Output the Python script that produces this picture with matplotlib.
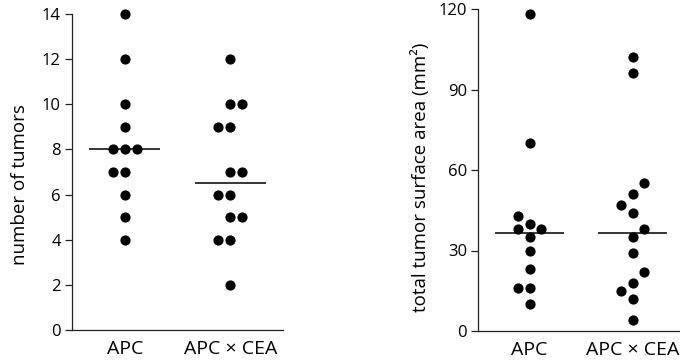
import numpy as np
import matplotlib
matplotlib.use("Agg")
import matplotlib.pyplot as plt

plt.rcParams['font.family'] = ['Open Sans', 'DejaVu Sans']

groups = ["APC", "APC × CEA"]

# number of tumors per mouse
tumors_apc = [14, 12, 10, 9, 8, 8, 8, 7, 7, 6, 5, 4]
tumors_cea = [12, 10, 10, 9, 9, 7, 7, 6, 6, 5, 5, 4, 4, 2]

# total tumor surface area (mm²) per mouse
area_apc = [118, 70, 43, 40, 38, 38, 35, 30, 23, 16, 16, 10]
area_cea = [102, 96, 55, 51, 47, 44, 38, 35, 29, 22, 18, 15, 12, 4]

# swarm column of each dot (-1 left, 0 centre, 1 right), as in the figure
slots_tumors_apc = [0, 0, 0, 0, -1, 0, 1, -1, 0, 0, 0, 0]
slots_tumors_cea = [0, 0, 1, -1, 0, 0, 1, -1, 0, 0, 1, -1, 0, 0]
slots_area_apc = [0, 0, -1, 0, -1, 1, 0, 0, 0, -1, 0, 0]
slots_area_cea = [0, 0, 1, 0, -1, 0, 1, 0, 0, 1, 0, -1, 0, 0]

DOT_STEP = 0.115
HALF_LINE = 0.335


def swarm(ax, pos, values, slots):
    x = pos + np.array(slots) * DOT_STEP
    ax.scatter(x, values, s=54, color='black', zorder=3, linewidths=0, clip_on=False)
    med = np.median(values)
    ax.plot([pos - HALF_LINE, pos + HALF_LINE], [med, med], color='black',
            lw=1.1, zorder=2, solid_capstyle='butt')


def style(ax):
    for s in ['top', 'right']:
        ax.spines[s].set_visible(False)
    for s in ['left', 'bottom']:
        ax.spines[s].set_linewidth(0.9)
        ax.spines[s].set_color('#222222')
    ax.tick_params(axis='y', length=5, width=0.9, labelsize=12, pad=3, color='#222222')
    ax.tick_params(axis='x', length=0, labelsize=14, pad=7)
    ax.set_xticks([1, 2])
    ax.set_xticklabels(groups)


fig = plt.figure(figsize=(6.8, 3.64), dpi=100)

ax1 = fig.add_axes([72 / 680, 34 / 364, 211 / 680, 316 / 364])
swarm(ax1, 1, tumors_apc, slots_tumors_apc)
swarm(ax1, 2, tumors_cea, slots_tumors_cea)
ax1.set_xlim(0.5, 2.5)
ax1.set_ylim(0, 14)
ax1.set_yticks(range(0, 15, 2))
ax1.set_ylabel("number of tumors", fontsize=13.5, labelpad=9)
ax1.yaxis.label.set_y(0.46)
style(ax1)

ax2 = fig.add_axes([478 / 680, 33 / 364, 202 / 680, 322 / 364])
swarm(ax2, 1, area_apc, slots_area_apc)
swarm(ax2, 2, area_cea, slots_area_cea)
ax2.set_xlim(0.5, 2.46)
ax2.set_ylim(0, 120)
ax2.set_yticks([0, 30, 60, 90, 120])
ax2.set_ylabel("total tumor surface area (mm²)", fontsize=13.5, labelpad=6)
ax2.yaxis.label.set_y(0.478)
style(ax2)

fig.savefig("out.png", dpi=100)
